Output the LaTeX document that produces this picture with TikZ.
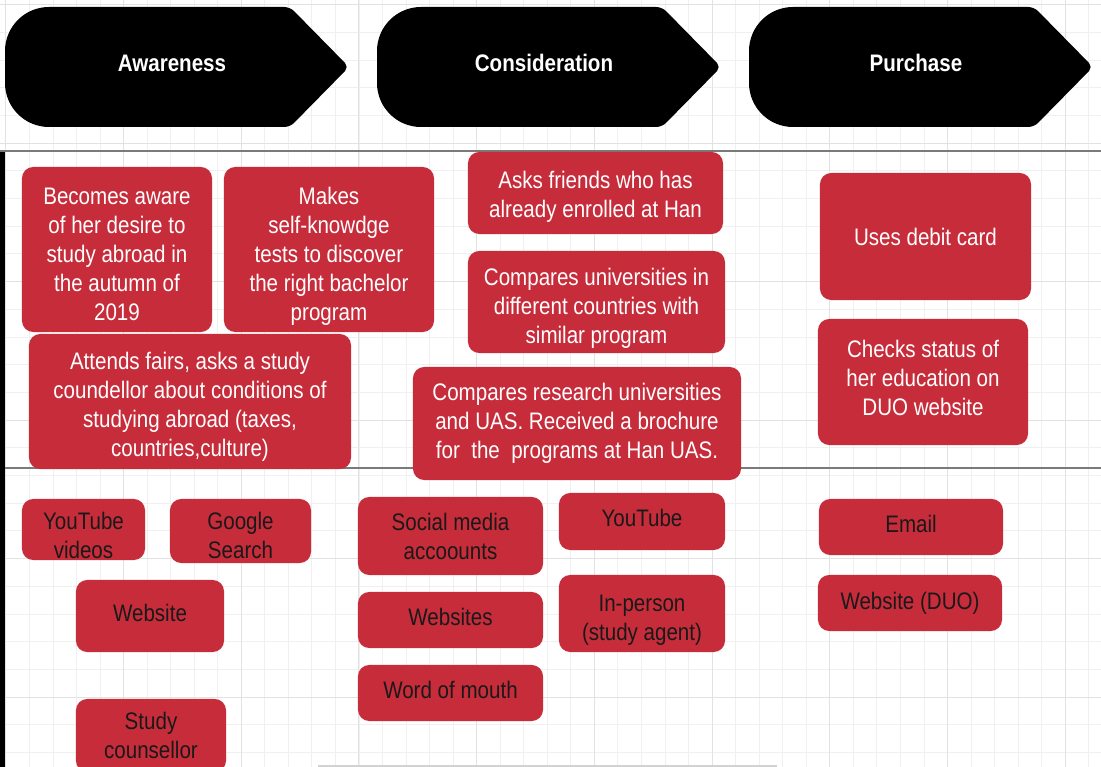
\documentclass[tikz,border=0pt]{standalone}
\usepackage{fontspec}
\setmainfont{Liberation Sans}[FakeStretch=0.86]
\definecolor{cardred}{HTML}{C72C3B}
\definecolor{gridminor}{HTML}{F0F0F0}
\definecolor{gridmajor}{HTML}{E2E2E2}
\definecolor{rulegray}{HTML}{7A7A7A}
% first line taller, so the text block sits lower in its card
\newcommand{\dropby}[1]{\rule{0pt}{#1}}

\begin{document}
\begin{tikzpicture}[x=0.025cm, y=-0.025cm,
  every node/.style={font=\fontsize{17}{20.6}\selectfont},
  card/.style={fill=cardred, rounded corners=8pt, align=center, inner sep=0pt},
  act/.style={card, text=white},
  touch/.style={card, text=black!90},
  textup/.style={execute at end node={\rule[-#1]{0pt}{#1}}},
  stagetext/.style={text=white, font=\fontsize{17}{20.6}\selectfont\bfseries}]
  \clip (0,0) rectangle (1101,767);
  \fill[white] (0,0) rectangle (1101,767);
  % Grid
  \foreach \k in {0,...,46} \draw[gridminor, line width=0.5pt] (5.8+23.54*\k,0) -- (5.8+23.54*\k,767);
  \foreach \k in {0,...,27} \draw[gridminor, line width=0.5pt] (0,4.5+27.7*\k) -- (1101,4.5+27.7*\k);
  \foreach \k in {0,...,9} \draw[gridmajor, line width=0.6pt] (5.8+117.7*\k,0) -- (5.8+117.7*\k,767);
  \foreach \k in {0,...,5} \draw[gridmajor, line width=0.6pt] (0,4.5+138.5*\k) -- (1101,4.5+138.5*\k);
  % Stages
  \foreach \dx/\name/\lbl in {0/aware/Awareness, 372/consider/Consideration, 744/purchase/Purchase}{
    \fill[black] (150+\dx,127) [rounded corners=1.1cm] -- (5+\dx,127) -- (5+\dx,7) -- (150+\dx,7)
      [rounded corners=4pt] -- (290+\dx,7) -- (349+\dx,67) -- (290+\dx,127) -- cycle;
    \node[stagetext] (\name) at (172+\dx,63) {\lbl};
  }
  % Rows
  \draw[rulegray, line width=1.3pt] (0,151) -- (1101,151);
  \draw[rulegray, line width=1.3pt] (0,468) -- (1101,468);
  \fill[black] (0,152) rectangle (5,767);
  \draw[gray!35, line width=2pt] (318,766) -- (777,766);
  % Actions (white text)
  \node[act, minimum width=4.75cm, minimum height=4.125cm] (desire) at (117,249.5) {\dropby{18.8pt}Becomes aware\\of her desire to\\study abroad in\\the autumn of\\2019};
  \node[act, minimum width=5.25cm, minimum height=4.125cm] (tests) at (329,249.5) {\dropby{21.6pt}Makes\\self-knowdge\\tests to discover\\the right bachelor\\program};
  \node[act, minimum width=8.05cm, minimum height=3.375cm] (fairs) at (190,401.5) {\dropby{20.2pt}Attends fairs, asks a study\\coundellor about conditions of\\studying abroad (taxes,\\countries,culture)};
  \node[act, minimum width=6.375cm, minimum height=2.05cm] (friends) at (595.5,193) {\dropby{17.4pt}Asks friends who has\\already enrolled at Han};
  \node[act, minimum width=6.425cm, minimum height=2.55cm] (compuni) at (596.5,302) {\dropby{21.6pt}Compares universities in\\different countries with\\similar program};
  \node[act, minimum width=8.2cm, minimum height=2.825cm] (compres) at (577,423.5) {Compares research universities\\and UAS. Received a brochure\\for\ \ the\ \ programs at Han UAS.};
  \node[act, minimum width=5.275cm, minimum height=3.175cm] (debit) at (925.5,236.5) {Uses debit card};
  \node[act, textup=5.7pt, minimum width=5.25cm, minimum height=3.15cm] (duostatus) at (923,382) {Checks status of\\her education on\\DUO website};
  % Touchpoints (black text)
  \node[touch, minimum width=3.075cm, minimum height=1.525cm] (ytvideos) at (83.5,529.5) {\dropby{21pt}YouTube\\videos};
  \node[touch, minimum width=3.525cm, minimum height=1.6cm] (google) at (240.5,531) {\dropby{18pt}Google\\Search};
  \node[touch, textup=4.3pt, minimum width=3.7cm, minimum height=1.8cm] (website) at (150,616) {Website};
  \node[touch, minimum width=3.75cm, minimum height=1.825cm] (counsellor) at (151,735.5) {Study\\counsellor};
  \node[touch, minimum width=4.625cm, minimum height=1.95cm] (social) at (450.5,536) {Social media\\accoounts};
  \node[touch, textup=4.3pt, minimum width=4.625cm, minimum height=1.4cm] (websites) at (450.5,620) {Websites};
  \node[touch, textup=4.3pt, minimum width=4.625cm, minimum height=1.4cm] (mouth) at (450.5,693) {Word of mouth};
  \node[touch, textup=5.7pt, minimum width=4.15cm, minimum height=1.425cm] (youtube) at (642,521.5) {YouTube};
  \node[touch, minimum width=4.15cm, minimum height=1.925cm] (inperson) at (642,613.5) {\dropby{21pt}In-person\\(study agent)};
  \node[touch, textup=4.3pt, minimum width=4.6cm, minimum height=1.4cm] (email) at (911,527) {Email};
  \node[touch, minimum width=4.6cm, minimum height=1.4cm] (duoweb) at (910,603) {Website (DUO)};
\end{tikzpicture}
\end{document}
